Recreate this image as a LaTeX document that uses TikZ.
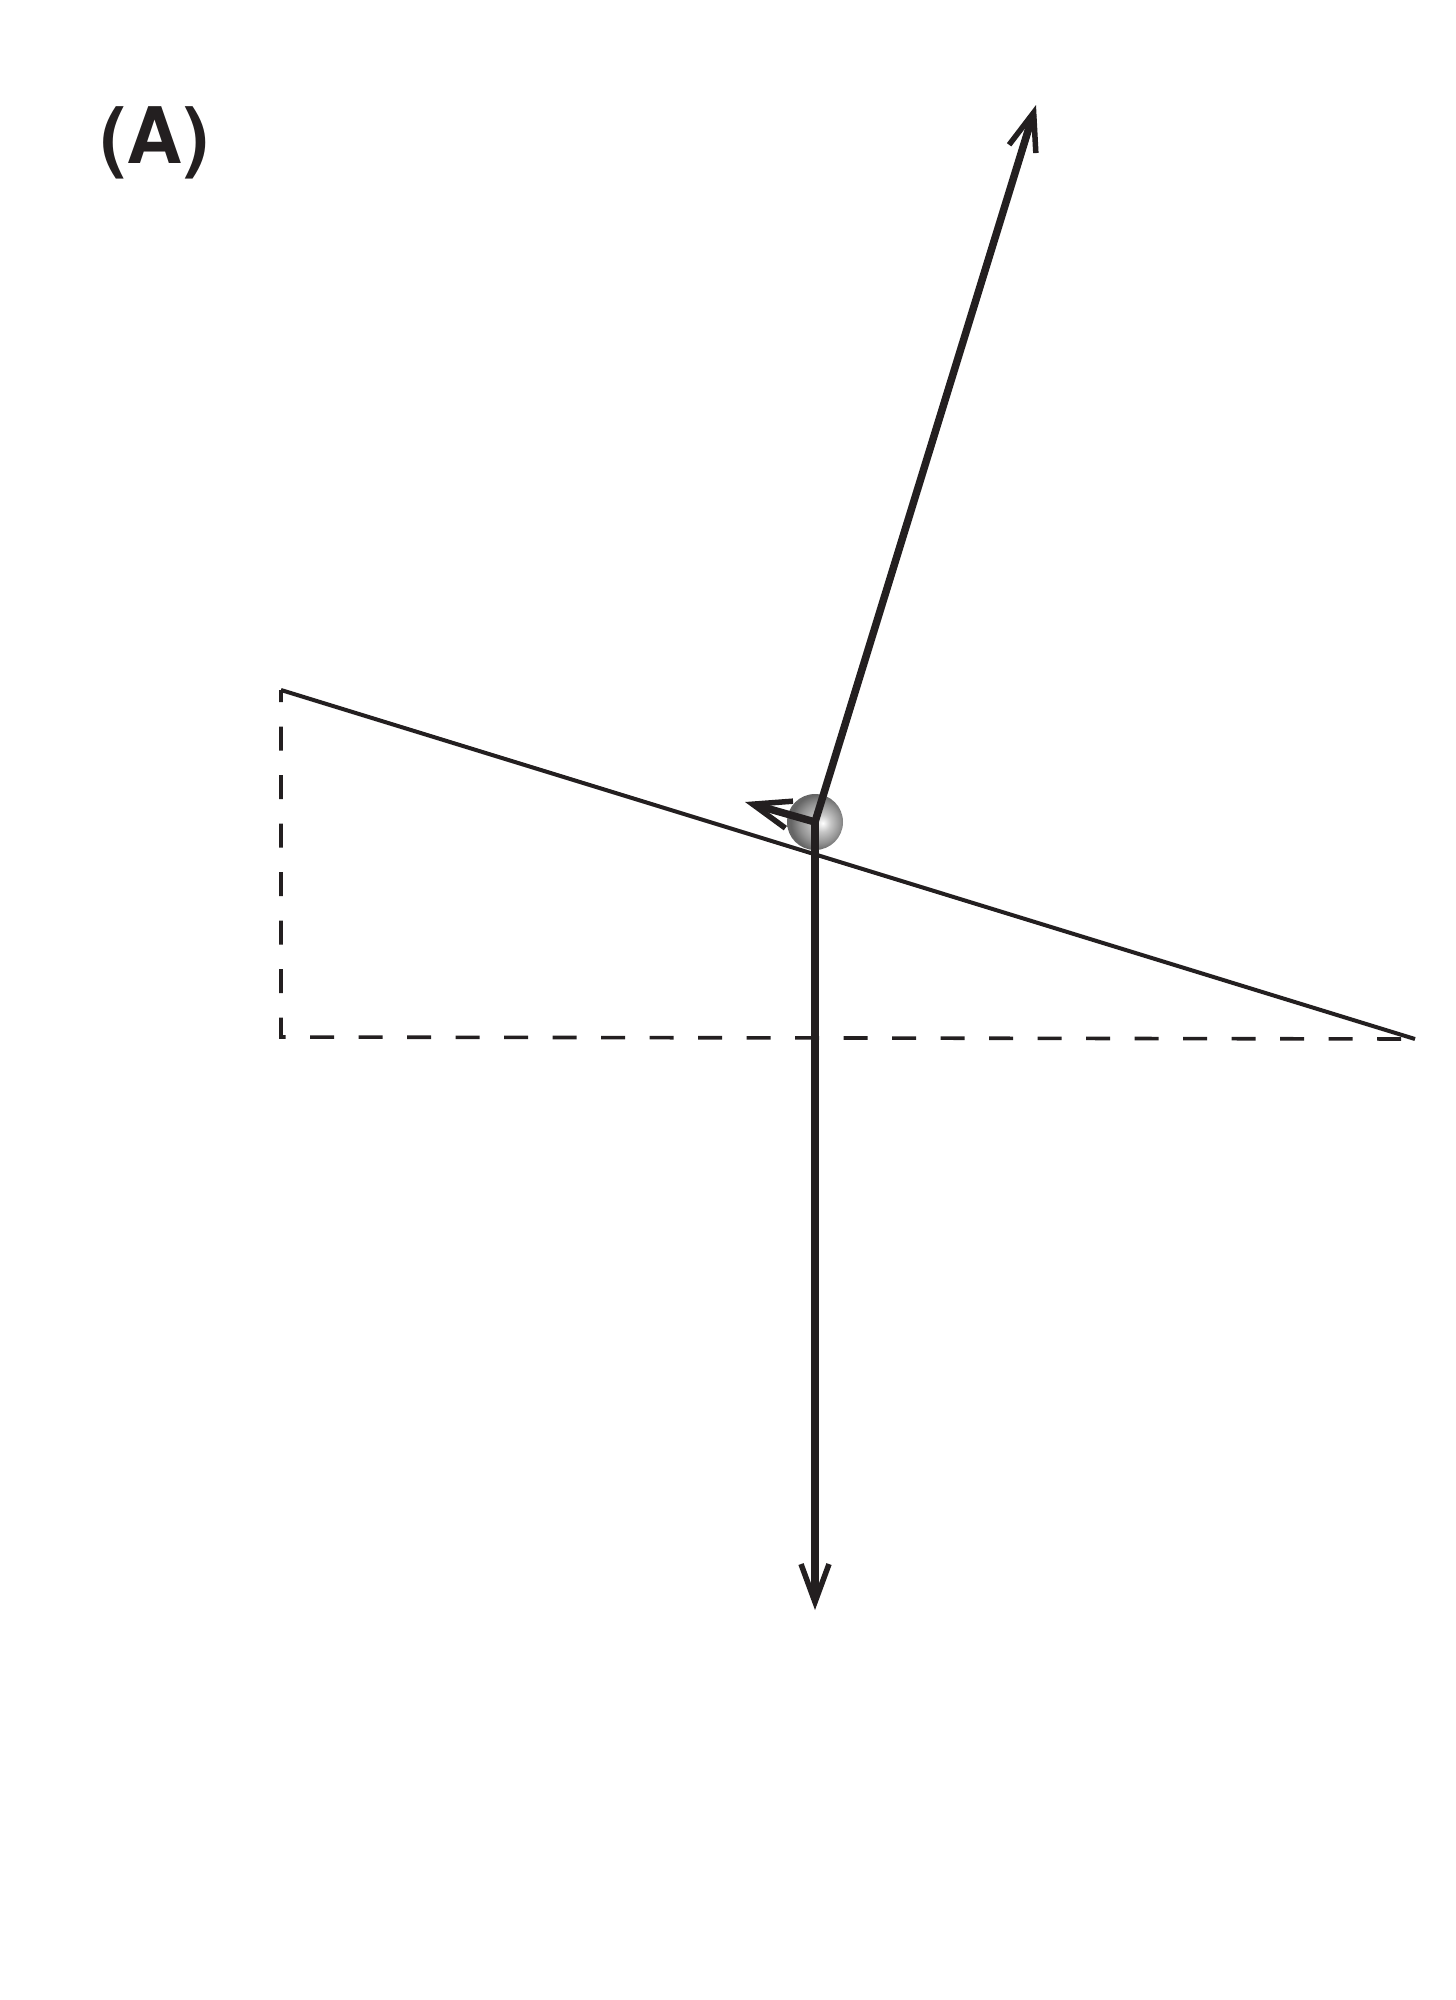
\documentclass[tikz,border=0pt]{standalone}
\usepackage{fontspec}
\setmainfont{TeX Gyre Heros}
\usetikzlibrary{arrows.meta}
\definecolor{ink}{HTML}{231F20}
\pgfdeclareradialshading{sphr}{\pgfpoint{7bp}{-1bp}}{%
  color(0bp)=(white);
  color(8bp)=(gray!45);
  color(18bp)=(gray!85);
  color(25bp)=(gray!80!black);
  color(50bp)=(gray!80!black)}
\tikzset{
  force/.style={draw=ink,line width=7.5pt,-{Straight Barb[length=38pt,width=28pt,line width=5.5pt]}},
  frame/.style={draw=ink,line width=3.6pt,dash pattern=on 24pt off 24.5pt,dash phase=12pt}
}
\begin{document}
\begin{tikzpicture}[x=1pt,y=-1pt]
\useasboundingbox (0,0) rectangle (1456,2000);
% label
\node[anchor=base,inner sep=0pt,text=ink,font=\fontsize{78}{90}\selectfont\bfseries] (lbl) at (155,163) {(A)};
% coordinates
\coordinate (TL) at (281,690);
\coordinate (BL) at (281,1037);
\coordinate (BR) at (1415,1039);
\coordinate (O) at (815,822);
\coordinate (Nup) at (1036,105);
\coordinate (W) at (815,1610);
\coordinate (F) at (745,802);
% dashed frame
\draw[frame] (TL) -- (BL) -- (BR);
% ball
\shade[shading=sphr] (O) circle (28);
% incline
\draw[draw=ink,line width=4pt] (TL) -- (BR);
% forces
\draw[force] (O) -- (Nup);
\draw[force] (O) -- (W);
\draw[force] (O) -- (F);
\end{tikzpicture}
\end{document}
